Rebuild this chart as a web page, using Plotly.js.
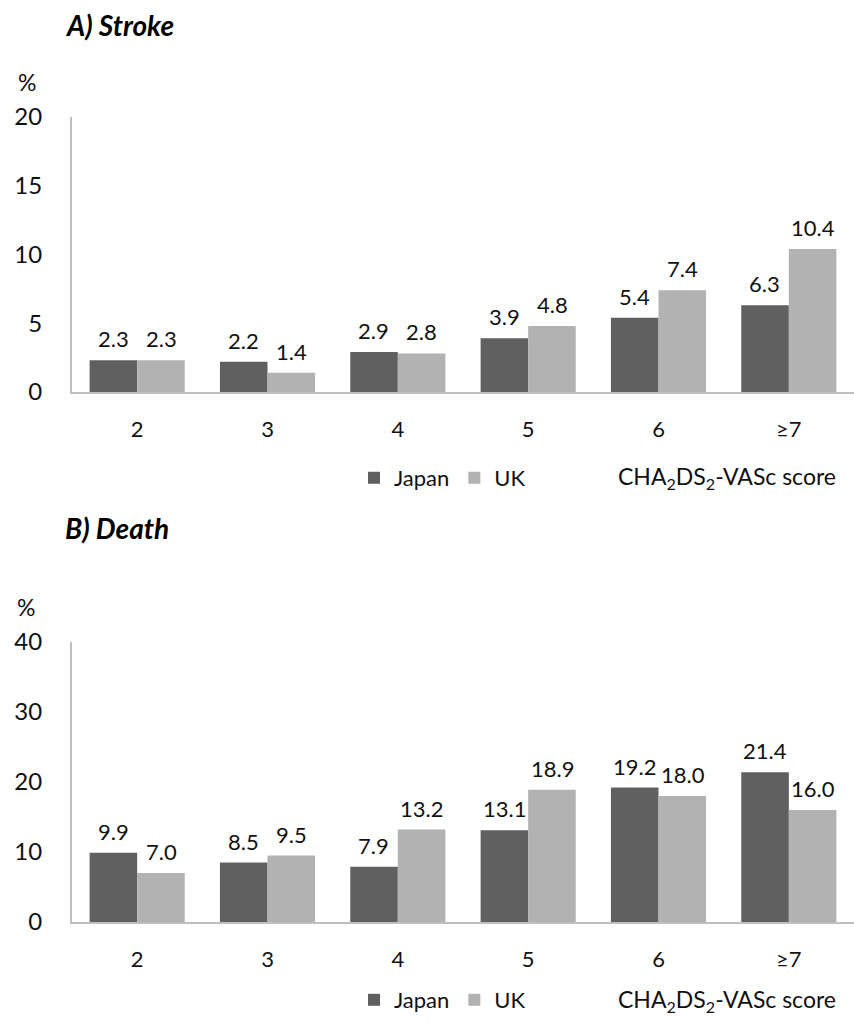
<!DOCTYPE html>
<html>
<head>
<meta charset="utf-8">
<script src="https://cdn.plot.ly/plotly-3.0.1.min.js"></script>
<style>html,body{margin:0;padding:0;background:#fff}#chart{width:854px;height:1024px}</style>
</head>
<body>
<div id="chart"></div>
<script>
const categories = ["2", "3", "4", "5", "6", "≥7"];
const strokeJapan = [2.3, 2.2, 2.9, 3.9, 5.4, 6.3];
const strokeUK = [2.3, 1.4, 2.8, 4.8, 7.4, 10.4];
const deathJapan = [9.9, 8.5, 7.9, 13.1, 19.2, 21.4];
const deathUK = [7.0, 9.5, 13.2, 18.9, 18.0, 16.0];
const strokeTicks = [0, 5, 10, 15, 20];
const deathTicks = [0, 10, 20, 30, 40];

const FONT = "Lato, 'Open Sans', sans-serif";
const TXT = "#111";
const cJapan = "#606060", cUK = "#b2b2b2";
const fmt = v => v.toFixed(1);

function bar(name, x, y, color, xa, ya, legend) {
  return {
    type: "bar", name: name, x: x, y: y, xaxis: xa, yaxis: ya,
    marker: {color: color, line: {width: 0}},
    legend: legend, showlegend: true, hoverinfo: "x+y"
  };
}

const data = [
  bar("Japan", categories, strokeJapan, cJapan, "x", "y", "legend"),
  bar("UK", categories, strokeUK, cUK, "x", "y", "legend"),
  bar("Japan", categories, deathJapan, cJapan, "x2", "y2", "legend2"),
  bar("UK", categories, deathUK, cUK, "x2", "y2", "legend2")
];

const xax = (anchor) => ({
  anchor: anchor, domain: [0, 1], type: "category",
  categoryorder: "array", categoryarray: categories,
  range: [-0.5, categories.length - 0.5],
  showline: true, linecolor: "#bfbfbf", linewidth: 2,
  ticks: "", showgrid: false, zeroline: false,
  tickfont: {family: FONT, size: 22, color: TXT},
  ticklabelstandoff: 17
});
const yax = (anchor, dom, ticks) => ({
  anchor: anchor, domain: dom, range: [0, ticks[ticks.length - 1]],
  tickvals: ticks, showline: true, linecolor: "#bfbfbf", linewidth: 2,
  ticks: "", showgrid: false, zeroline: false,
  tickfont: {family: FONT, size: 24, color: TXT},
  ticklabelstandoff: 23
});

const legendStyle = (y) => ({
  orientation: "h", x: 0.3606, xanchor: "left", y: y, yanchor: "middle",
  font: {family: FONT, size: 22, color: TXT}, traceorder: "normal",
  itemwidth: 30, bgcolor: "rgba(0,0,0,0)", tracegroupgap: 0
});

const ann = (text, x, y, opts) => Object.assign({
  text: text, xref: "paper", yref: "paper", x: x, y: y,
  showarrow: false, xanchor: "left", yanchor: "middle",
  font: {family: FONT, size: 23, color: TXT}
}, opts || {});

function valueLabels(vals, xa, ya, shift) {
  return vals.map((v, i) => ({
    text: fmt(v), x: i, y: v, xref: xa, yref: ya,
    xshift: shift, yshift: 6, showarrow: false,
    xanchor: "center", yanchor: "bottom",
    font: {family: FONT, size: 22, color: TXT}
  }));
}

const annotations = [
  ann("<b><i>A) Stroke</i></b>", -0.012, 1.1143, {font: {family: FONT, size: 28, color: "#000"}}),
  ann("%", -0.058, 1.044, {xanchor: "center"}),
  ann("CHA<sub>2</sub>DS<sub>2</sub>-VASc score", 0.8376, 0.5516, {xanchor: "center"}),
  ann("<b><i>B) Death</i></b>", -0.012, 0.4894, {font: {family: FONT, size: 28, color: "#000"}}),
  ann("%", -0.059, 0.391, {xanchor: "center"}),
  ann("CHA<sub>2</sub>DS<sub>2</sub>-VASc score", 0.8376, -0.0969, {xanchor: "center"})
].concat(
  valueLabels(strokeJapan, "x", "y", -24),
  valueLabels(strokeUK, "x", "y", 24),
  valueLabels(deathJapan, "x2", "y2", -24),
  valueLabels(deathUK, "x2", "y2", 24)
);

const layout = {
  width: 854, height: 1024,
  margin: {l: 72, r: 0, t: 117, b: 102},
  paper_bgcolor: "#fff", plot_bgcolor: "#fff",
  barmode: "group", bargap: 0.27, bargroupgap: 0,
  showlegend: true,
  xaxis: xax("y"), yaxis: yax("x", [0.6584, 1], strokeTicks),
  xaxis2: xax("y2"), yaxis2: yax("x2", [0, 0.3478], deathTicks),
  legend: legendStyle(0.5516),
  legend2: legendStyle(-0.0969),
  annotations: annotations
};

Plotly.newPlot("chart", data, layout, {displayModeBar: false, staticPlot: true});
</script>
</body>
</html>
